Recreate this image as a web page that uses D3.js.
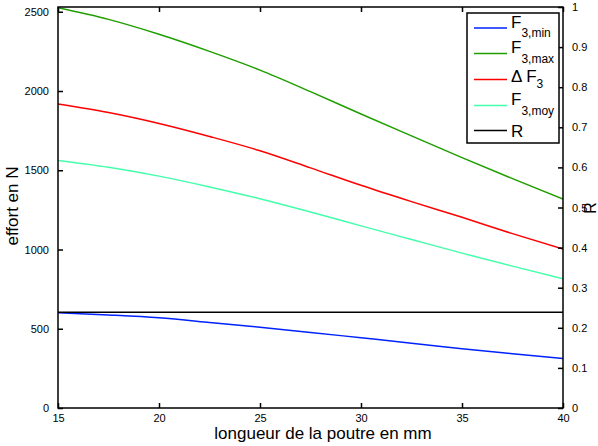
<!DOCTYPE html>
<html>
<head>
<meta charset="utf-8">
<script src="https://cdn.jsdelivr.net/npm/d3@7"></script>
<style>
  body { margin: 0; background: #fff; }
  svg { display: block; }
  text { font-family: "Liberation Sans", Arial, Helvetica, sans-serif; fill: #000; }
</style>
</head>
<body>
<svg id="chart" width="598" height="446"></svg>
<script>
// ---- data ----
const xValues   = [15, 17.5, 20, 22.5, 25, 27.5, 30, 32.5, 35, 37.5, 40];
const f3min     = [601, 587, 569, 540, 509, 477, 443, 409, 374, 343, 313];
const f3max     = [2525, 2452, 2358, 2250, 2132, 1996, 1855, 1717, 1580, 1447, 1318];
const deltaF3   = [1918, 1864, 1795, 1713, 1623, 1515, 1405, 1302, 1203, 1100, 1003];
const f3moy     = [1562, 1519, 1463, 1395, 1320, 1236, 1149, 1063, 977, 895, 816];
const rValues   = [0.239, 0.239, 0.239, 0.239, 0.239, 0.239, 0.239, 0.239, 0.239, 0.239, 0.239];
const xTicks    = [15, 20, 25, 30, 35, 40];
const leftTicks = [0, 500, 1000, 1500, 2000, 2500];
const rightTicks = [0, 0.1, 0.2, 0.3, 0.4, 0.5, 0.6, 0.7, 0.8, 0.9, 1];
const xLabel = "longueur de la poutre en mm";
const yLabelLeft = "effort en N";
const yLabelRight = "R";

// ---- layout ----
const L = 58, R = 563, T = 7, B = 408;
const svg = d3.select("#chart");

const x = d3.scaleLinear().domain([15, 40]).range([L, R]);
const yL = d3.scaleLinear().domain([0, 2530]).range([B, T]);
const yR = d3.scaleLinear().domain([0, 1]).range([B, T]);

const series = [
  { name: "min", vals: f3min, color: "#0022ff", scale: yL },
  { name: "max", vals: f3max, color: "#1e9e00", scale: yL },
  { name: "delta", vals: deltaF3, color: "#ff0000", scale: yL },
  { name: "moy", vals: f3moy, color: "#44ffaa", scale: yL },
  { name: "R", vals: rValues, color: "#000000", scale: yR }
];

svg.append("clipPath").attr("id", "clip")
  .append("rect").attr("x", L).attr("y", T).attr("width", R - L).attr("height", B - T);

const plot = svg.append("g").attr("clip-path", "url(#clip)");
series.forEach(s => {
  const line = d3.line()
    .x((d, i) => x(xValues[i]))
    .y(d => s.scale(d))
    .curve(d3.curveMonotoneX);
  plot.append("path")
    .attr("d", line(s.vals))
    .attr("fill", "none")
    .attr("stroke", s.color)
    .attr("stroke-width", 1.5);
});

// ---- axes (ticks inward) ----
const tl = 5;
const fmtR = d => d === 0 ? "0" : (d === 1 ? "1" : d3.format(".1f")(d));

svg.append("g").attr("transform", `translate(0,${B})`)
  .call(d3.axisBottom(x).tickValues(xTicks).tickSize(-tl).tickPadding(6).tickFormat(d3.format("d")))
  .call(g => g.select(".domain").remove());
svg.append("g").attr("transform", `translate(0,${T})`)
  .call(d3.axisTop(x).tickValues(xTicks).tickSize(-tl).tickFormat(""))
  .call(g => g.select(".domain").remove());
svg.append("g").attr("transform", `translate(${L},0)`)
  .call(d3.axisLeft(yL).tickValues(leftTicks).tickSize(-tl).tickPadding(9).tickFormat(d3.format("d")))
  .call(g => g.select(".domain").remove());
svg.append("g").attr("transform", `translate(${R},0)`)
  .call(d3.axisRight(yR).tickValues(rightTicks).tickSize(-tl).tickPadding(9).tickFormat(fmtR))
  .call(g => g.select(".domain").remove());

svg.selectAll(".tick line").attr("stroke", "#000").attr("stroke-width", 1.5);
svg.selectAll(".tick text").style("font-size", "11px").style("font-family", "'Liberation Sans', Arial, sans-serif").attr("fill", "#000");

// frame
svg.append("rect").attr("x", L).attr("y", T).attr("width", R - L).attr("height", B - T)
  .attr("fill", "none").attr("stroke", "#000").attr("stroke-width", 1.5);

// axis labels
svg.append("text").attr("x", 323).attr("y", 439).attr("text-anchor", "middle")
  .style("font-size", "17px").text(xLabel);
svg.append("text").attr("transform", "translate(18,206) rotate(-90)").attr("text-anchor", "middle")
  .style("font-size", "17px").text(yLabelLeft);
svg.append("text").attr("transform", "translate(596,208) rotate(-90)").attr("text-anchor", "middle")
  .style("font-size", "16px").text(yLabelRight);

// ---- legend ----
const leg = svg.append("g");
leg.append("rect").attr("x", 467).attr("y", 13).attr("width", 92).attr("height", 130)
  .attr("fill", "#fff").attr("stroke", "#000").attr("stroke-width", 1.5);
const legendItems = [
  { main: "F", sub: "3,min", color: series[0].color, y: 28 },
  { main: "F", sub: "3,max", color: series[1].color, y: 53.5 },
  { main: "\u0394 F", sub: "3", color: series[2].color, y: 79.5 },
  { main: "F", sub: "3,moy", color: series[3].color, y: 105.5 },
  { main: "R", sub: "", color: series[4].color, y: 130.5 }
];
legendItems.forEach(it => {
  leg.append("line").attr("x1", 474).attr("x2", 507).attr("y1", it.y).attr("y2", it.y)
    .attr("stroke", it.color).attr("stroke-width", 1.5);
  const t = leg.append("text").attr("x", 511).style("font-size", "17px");
  if (it.sub) {
    const base = it.main === "F" ? it.y - 0.5 : it.y + 2;
    t.attr("y", base);
    t.append("tspan").text(it.main);
    t.append("tspan").attr("dy", it.main === "F" ? 9.5 : 6).style("font-size", "12px").text(it.sub);
  } else {
    t.attr("y", it.y + 6).text(it.main);
  }
});
</script>
</body>
</html>
